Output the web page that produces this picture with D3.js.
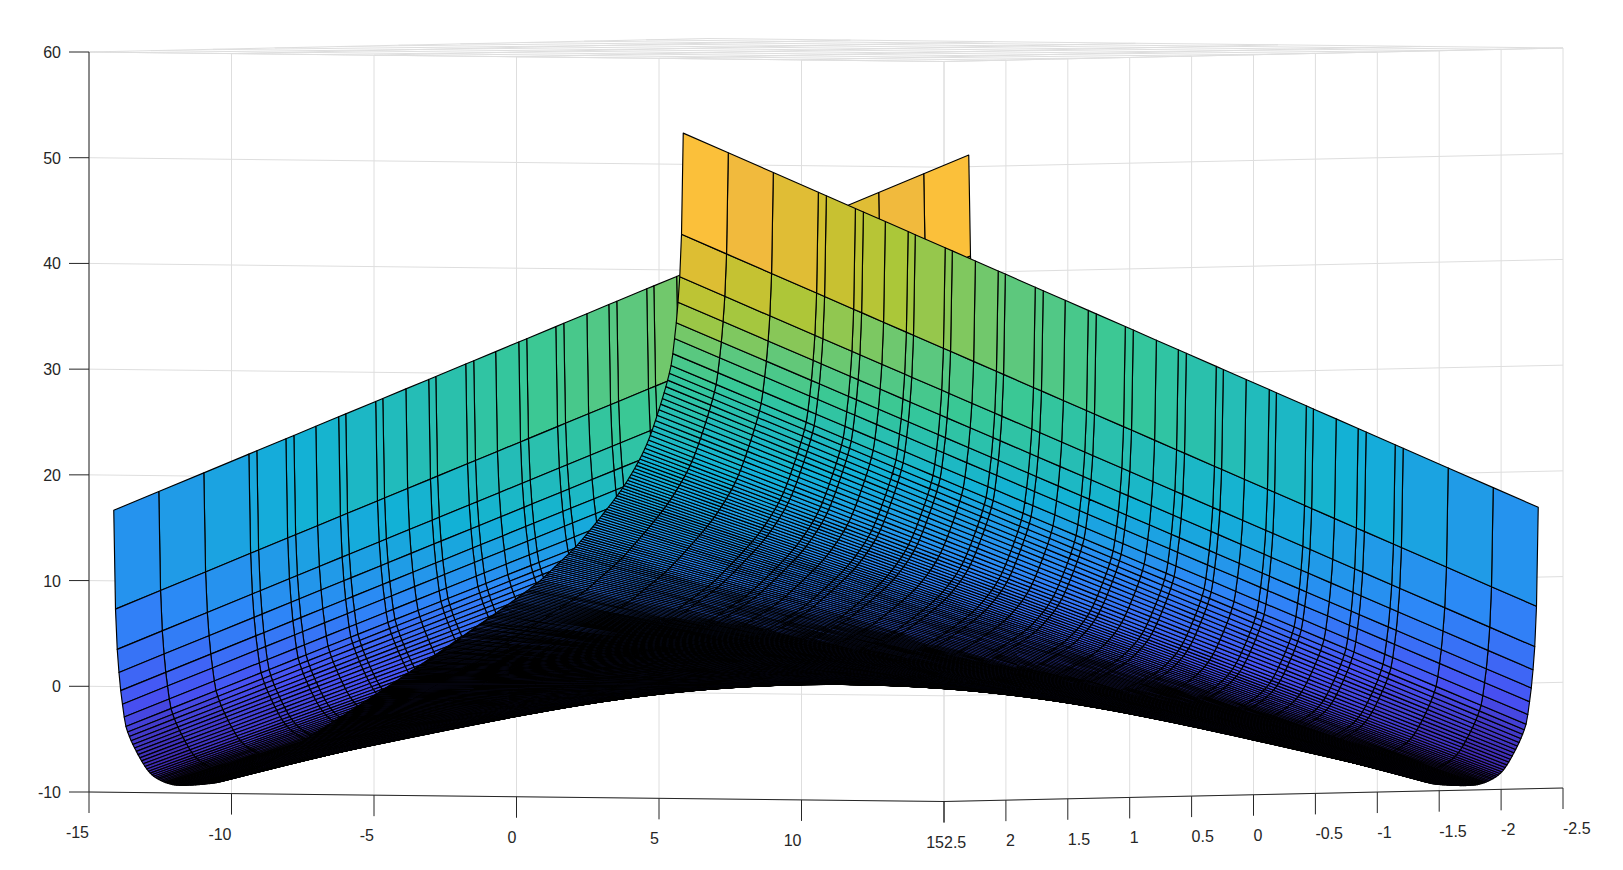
<!DOCTYPE html>
<html><head><meta charset="utf-8">
<script src="https://cdn.jsdelivr.net/npm/d3@7"></script>
<style>html,body{margin:0;padding:0;background:#fff}svg{display:block}text{font-family:"Liberation Sans",Arial,sans-serif;font-size:16px;fill:#262626}</style>
</head><body><svg id="c" width="1623" height="870"></svg>
<script>
// ---- axis ticks
const xTicks=[-15,-10,-5,0,5,10,15];
const yTicks=[2.5,2,1.5,1,0.5,0,-0.5,-1,-1.5,-2,-2.5];
const zTicks=[-10,0,10,20,30,40,50,60];
// ---- mesh lines
const xGrid=[-15,-13.42,-11.84,-10.26,-9.98,-8.96,-8.68,-7.91,-7.11,-6.86,-5.81,-5.56,-4.75,-3.95,-3.7,-2.65,-2.37,-1.6,-0.79,-0.51,
 0.51,0.79,1.6,2.37,2.65,3.7,3.95,4.75,5.56,5.81,6.86,7.11,7.91,8.68,8.96,9.98,10.26,11.84,13.42,15];
const yRowCount=329, yEdge=2.3;
// ---- valley cross-section: z (at x=0) against |y|
const profileY=[0,0.3,0.5,0.7,0.965,1.13,1.26,1.43,1.565,1.709,1.77,1.83,1.9,1.966,2.02,2.07,2.11,2.153,2.172,2.19,2.21,2.222,2.236,2.25,2.262,2.274,2.286,2.3];
const profileZ=[0,0.03,0.08,0.15,0.28,0.45,0.85,1.45,2.25,3.25,3.72,4.27,5.08,6.0,7.0,8.25,9.4,10.73,11.4,12.1,13.1,14.3,15.5,17.1,18.8,20.9,24.4,33.85];
const twist=0.5; // dz per unit of x*y
// ---- colormap
const cmapPos=[0,1/7,2/7,3/7,4/7,0.64,5/7,0.765,0.785,0.815,0.845,1];
const cmapCol=["#3E26A8","#4852F4","#2D87F7","#12B1D6","#37C897","#5FC87C","#ABC739","#D5BF2E","#E6BC39","#F6B93E","#FEC338","#F9FB15"];
const colorDomain=[-8,56];
const rowColorShift=[0,0.9,2.5,2.5,2,1.5,1,0.5];

// ---- scales forming the 3D box projection
const pxX=d3.scaleLinear([-15,15],[-427.5,427.5]);
const pxY=d3.scaleLinear([-2.5,2.5],[309.5,-309.5]);
const pyX=d3.scaleLinear([-15,15],[-4.75,4.75]);
const pyY=d3.scaleLinear([-2.5,2.5],[-6.75,6.75]);
const pyZ=d3.scaleLinear([-10,60],[0,-740]);
const P=(x,y,z)=>[826+pxX(x)+pxY(y),790+pyX(x)+pyY(y)+pyZ(z)];

// monotone cubic through the cross-section table
function makeProfile(X,Y){
  const n=X.length,s=[],m=new Array(n);
  for(let i=0;i<n-1;i++)s.push((Y[i+1]-Y[i])/(X[i+1]-X[i]));
  m[0]=0;m[n-1]=s[n-2];
  for(let i=1;i<n-1;i++)m[i]=(s[i-1]*s[i]<=0)?0:2*s[i-1]*s[i]/(s[i-1]+s[i]);
  return v=>{
    const a=Math.min(Math.abs(v),X[n-1]);
    let i=d3.bisectRight(X,a)-1; if(i>=n-1)i=n-2;
    const h=X[i+1]-X[i],t=(a-X[i])/h,t2=t*t,t3=t2*t;
    return (2*t3-3*t2+1)*Y[i]+(t3-2*t2+t)*h*m[i]+(-2*t3+3*t2)*Y[i+1]+(t3-t2)*h*m[i+1];
  };
}
const B=makeProfile(profileY,profileZ);
const yGrid=d3.range(yRowCount).map(i=>-yEdge+i*2*yEdge/(yRowCount-1));
const Z=(x,y)=>twist*x*y+B(y);

const color=d3.scaleLinear().domain(cmapPos.map(p=>colorDomain[0]+p*(colorDomain[1]-colorDomain[0]))).range(cmapCol).clamp(true);

const svg=d3.select("#c");
const GRID="#dedede",INK="#262626";
const line=(g,a,b,c,w)=>g.append("line").attr("x1",a[0]).attr("y1",a[1]).attr("x2",b[0]).attr("y2",b[1]).attr("stroke",c).attr("stroke-width",w||1);

// ---- grid on the far walls and ceiling
const grid=svg.append("g");
zTicks.forEach(z=>{line(grid,P(-15,2.5,z),P(15,2.5,z),GRID);line(grid,P(15,2.5,z),P(15,-2.5,z),GRID);});
xTicks.forEach(x=>{line(grid,P(x,2.5,-10),P(x,2.5,60),GRID);line(grid,P(x,2.5,60),P(x,-2.5,60),GRID);});
yTicks.forEach(y=>{line(grid,P(15,y,-10),P(15,y,60),GRID);line(grid,P(-15,y,60),P(15,y,60),GRID);});

// ---- surface, far cells first
const cells=[];
const lastRow=yGrid.length-2;
for(let j=lastRow;j>=0;j--){
  const outer=Math.abs(yGrid[j])>Math.abs(yGrid[j+1])?yGrid[j]:yGrid[j+1];
  const fromEdge=Math.min(j,lastRow-j);
  const shift=rowColorShift[fromEdge]||0;
  for(let i=xGrid.length-2;i>=0;i--){
    const c=[[i,j],[i+1,j],[i+1,j+1],[i,j+1]].map(([a,b])=>[xGrid[a],yGrid[b]]);
    const zs=c.map(([x,y])=>Z(x,y));
    const xm=(xGrid[i]+xGrid[i+1])/2;
    const zc=fromEdge===0?d3.mean(zs):twist*xm*outer+B(outer)+shift;
    cells.push({pts:c.map(([x,y],k)=>P(x,y,zs[k])),z:zc});
  }
}
const lineGen=d3.line();
svg.append("g").attr("stroke","#000").attr("stroke-width",1.15).attr("stroke-linejoin","round")
 .selectAll("path").data(cells).join("path")
 .attr("d",d=>lineGen(d.pts)+"Z").attr("fill",d=>color(d.z));

// ---- axes
const ax=svg.append("g");
line(ax,P(-15,2.5,-10),P(15,2.5,-10),INK);
line(ax,P(15,2.5,-10),P(15,-2.5,-10),INK);
line(ax,P(-15,2.5,-10),P(-15,2.5,60),INK);
const TL=21;
zTicks.forEach(z=>{const p=P(-15,2.5,z);line(ax,[p[0]-20,p[1]],p,INK);
 ax.append("text").attr("x",p[0]-28).attr("y",p[1]+6).attr("text-anchor","end").text(z);});
xTicks.forEach(x=>{const p=P(x,2.5,-10);line(ax,p,[p[0],p[1]+TL],INK);
 ax.append("text").attr("x",p[0]).attr("y",p[1]+46).attr("text-anchor","end").text(x);});
yTicks.forEach(y=>{const p=P(15,y,-10);line(ax,p,[p[0],p[1]+TL],INK);
 ax.append("text").attr("x",p[0]).attr("y",p[1]+46).attr("text-anchor","start").text(y);});
</script></body></html>
